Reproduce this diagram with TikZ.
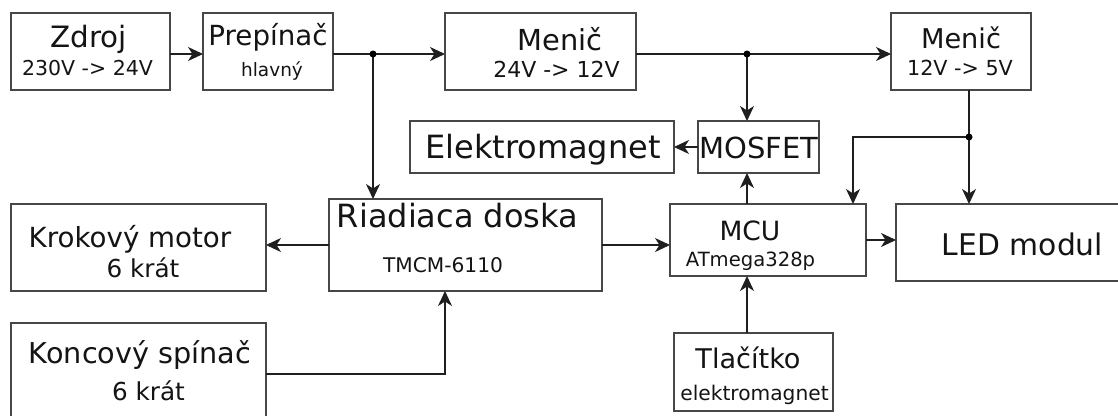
\documentclass[tikz,border=0pt]{standalone}
\usepackage{fontspec}
\setmainfont{DejaVu Sans}
\usetikzlibrary{arrows.meta}
\newcommand\fsz[1]{\fontsize{#1}{#1}\selectfont}
\tikzset{
  box/.style={draw=black!72, line width=1.4pt, rectangle, inner sep=0pt, outer sep=0pt, fill=white},
  wire/.style={draw=black!88, line width=1.4pt},
  arr/.style={wire, -{Stealth[length=15pt,width=14pt,inset=4.5pt]}},
  jdot/.style={circle, fill=black, inner sep=0pt, minimum size=7pt},
  lbl/.style={anchor=base, inner sep=0pt, outer sep=0pt, text=black!92},
}
\begin{document}
\begin{tikzpicture}[x=1pt,y=-1pt]
\useasboundingbox (0,0) rectangle (1118,415);
\clip (0,0) rectangle (1118,415);
\fill[white] (0,0) rectangle (1118,415);

% boxes
\node[box, minimum width=159pt, minimum height=77pt] (zdroj)  at (90.5,51.5) {};
\node[box, minimum width=130pt, minimum height=77pt] (prep)   at (268,51.5) {};
\node[box, minimum width=191pt, minimum height=77pt] (menic1) at (540.5,51.5) {};
\node[box, minimum width=140pt, minimum height=77pt] (menic2) at (961,51.5) {};
\node[box, minimum width=264pt, minimum height=52pt] (elek)   at (542,147) {};
\node[box, minimum width=121pt, minimum height=52pt] (mosfet) at (758.5,147) {};
\node[box, minimum width=255pt, minimum height=87pt] (krok)   at (138.5,247.5) {};
\node[box, minimum width=273pt, minimum height=92pt] (riad)   at (465.5,245) {};
\node[box, minimum width=196pt, minimum height=72pt] (mcu)    at (768,240) {};
\node[box, minimum width=229pt, minimum height=77pt] (led)    at (1010.5,242.5) {};
\node[box, minimum width=255pt, minimum height=102pt] (konc)  at (138.5,374) {};
\node[box, minimum width=159pt, minimum height=78pt] (tlac)   at (753.5,372) {};

% texts
\node[lbl, font=\fsz{29.4}] (zdrojT) at (88.5,47) {Zdroj};
\node[lbl, font=\fsz{20.5}] (zdrojS) at (87.5,75) {230V -> 24V};
\node[lbl, font=\fsz{27.7}] (prepT) at (268,45) {Prepínač};
\node[lbl, font=\fsz{18.5}] (prepS) at (272,76) {hlavný};
\node[lbl, font=\fsz{28.9}] (menic1T) at (560,50) {Menič};
\node[lbl, font=\fsz{22}] (menic1S) at (556.5,77) {24V -> 12V};
\node[lbl, font=\fsz{27.2}] (menic2T) at (961,48) {Menič};
\node[lbl, font=\fsz{20.7}] (menic2S) at (960,75) {12V -> 5V};
\node[lbl, font=\fsz{32}] (elekT) at (543,158) {Elektromagnet};
\node[lbl, font=\fsz{29}] (mosfetT) at (759,158) {MOSFET};
\node[lbl, font=\fsz{27.7}] (krokT) at (130,247) {Krokový motor};
\node[lbl, font=\fsz{24.7}] (krokS) at (143,277) {6 krát};
\node[lbl, font=\fsz{32}] (riadT) at (457.5,227) {Riadiaca doska};
\node[lbl, font=\fsz{20.2}] (riadS) at (443,272) {TMCM-6110};
\node[lbl, font=\fsz{28.7}] (koncT) at (140,363) {Koncový spínač};
\node[lbl, font=\fsz{24.7}] (koncS) at (148.5,400) {6 krát};
\node[lbl, font=\fsz{26.5}] (mcuT) at (750,240) {MCU};
\node[lbl, font=\fsz{19.6}] (mcuS) at (750.5,266) {ATmega328p};
\node[lbl, font=\fsz{29.8}] (ledT) at (1022.5,255) {LED modul};
\node[lbl, font=\fsz{27.1}] (tlacT) at (748,368) {Tlačítko};
\node[lbl, font=\fsz{20.2}] (tlacS) at (754.5,400) {elektromagnet};

% helper coordinates
\coordinate (ytop) at (0,54);
\coordinate (ymid) at (0,245);
\coordinate (j1) at (373,54);
\coordinate (j2) at (747,54);
\coordinate (j3) at (969,137);
\coordinate (k3) at (853,137);
\coordinate (k4) at (445,374);

% connectors
\draw[arr] (zdroj.east |- ytop) -- (prep.west |- ytop);
\draw[arr] (prep.east |- ytop) -- (menic1.west |- ytop);
\draw[arr] (menic1.east |- ytop) -- (menic2.west |- ytop);
\draw[arr] (j1) -- (j1 |- riad.north);
\draw[arr] (j2) -- (j2 |- mosfet.north);
\draw[arr] (mosfet.west) -- (elek.east);
\draw[arr] (j2 |- mcu.north) -- (j2 |- mosfet.south);
\draw[wire] (j3 |- menic2.south) -- (j3);
\draw[arr] (j3) -- (j3 |- led.north);
\draw[arr] (j3) -- (k3) -- (k3 |- mcu.north);
\draw[arr] (riad.west |- ymid) -- (krok.east |- ymid);
\draw[arr] (riad.east |- ymid) -- (mcu.west |- ymid);
\draw[arr] (mcu.east) -- (led.west |- mcu.east);
\draw[arr] (konc.east |- k4) -- (k4) -- (k4 |- riad.south);
\draw[arr] (j2 |- tlac.north) -- (j2 |- mcu.south);

\node[jdot] (d1) at (j1) {};
\node[jdot] (d2) at (j2) {};
\node[jdot] (d3) at (j3) {};
\end{tikzpicture}
\end{document}
